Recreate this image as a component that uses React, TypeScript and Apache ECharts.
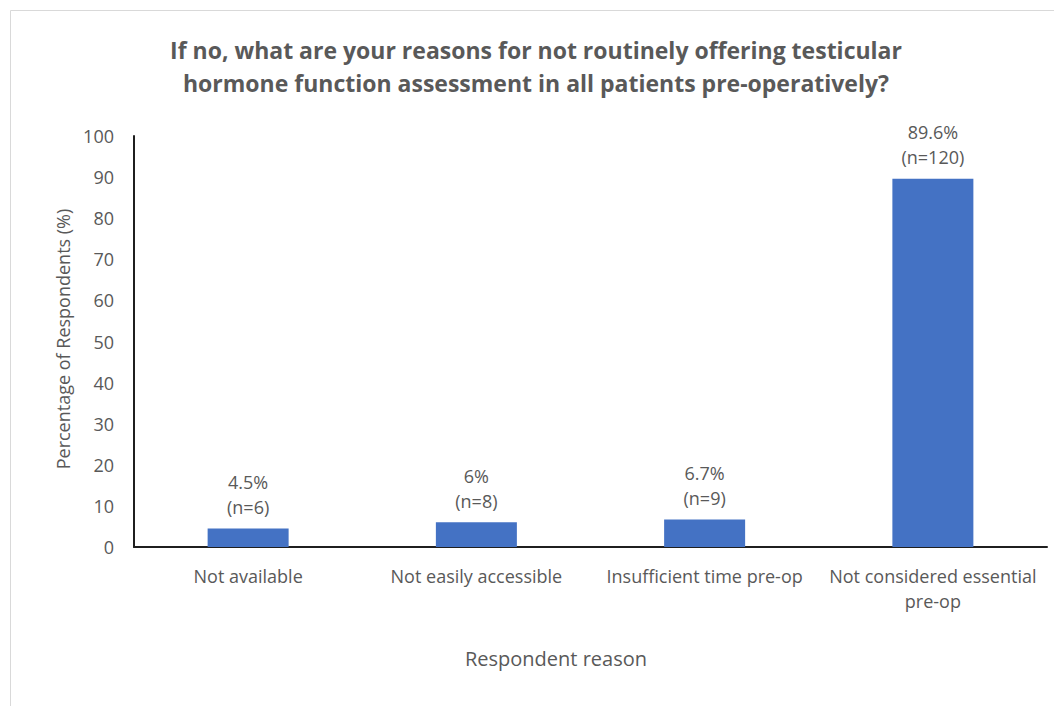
import React, { useEffect, useRef } from "react";
import * as echarts from "echarts";

const categories = [
  "Not available",
  "Not easily accessible",
  "Insufficient time pre-op",
  "Not considered essential\npre-op",
];
const percentages = [4.5, 6, 6.7, 89.6];
const counts = [6, 8, 9, 120];
const yTicks = { min: 0, max: 100, interval: 10 };
const titleLines = [
  "If no, what are your reasons for not routinely offering testicular",
  "hormone function assessment in all patients pre-operatively?",
];
const yAxisTitle = "Percentage of Respondents (%)";
const xAxisTitle = "Respondent reason";

const FONT = "Open Sans";
const GRAY = "#595959";
const FS = 18;

export default function App() {
  const ref = useRef<HTMLDivElement>(null);
  useEffect(() => {
    if (!ref.current) return;
    const chart = echarts.init(ref.current, undefined, { renderer: "svg" });
    const data = percentages.map((v, i) => ({
      value: v,
      label: { formatter: `${v}%\n(n=${counts[i]})` },
    }));
    chart.setOption({
      animation: false,
      backgroundColor: "#ffffff",
      textStyle: { fontFamily: FONT },
      grid: { left: 134, right: 7, top: 136, bottom: 159, containLabel: false },
      xAxis: {
        type: "category",
        data: categories,
        axisLine: { lineStyle: { color: "#1f1f1f", width: 2 } },
        axisTick: { show: false },
        axisLabel: {
          color: GRAY,
          fontSize: FS,
          fontFamily: FONT,
          margin: 16,
          lineHeight: 25,
          interval: 0,
        },
      },
      yAxis: {
        type: "value",
        min: yTicks.min,
        max: yTicks.max,
        interval: yTicks.interval,
        axisLine: { show: true, lineStyle: { color: "#1f1f1f", width: 2 } },
        axisTick: { show: false },
        splitLine: { show: false },
        axisLabel: { color: GRAY, fontSize: FS, fontFamily: FONT, margin: 20 },
      },
      series: [
        {
          type: "bar",
          data,
          barWidth: 81,
          itemStyle: { color: "#4472C4" },
          label: {
            show: true,
            position: "top",
            distance: 9,
            color: GRAY,
            fontSize: FS,
            fontFamily: FONT,
            lineHeight: 25,
            align: "center",
          },
        },
      ],
      graphic: [
        {
          type: "rect",
          shape: { x: 10.5, y: 10.5, width: 1200, height: 900 },
          style: { fill: "none", stroke: "#d9d9d9", lineWidth: 1 },
          silent: true,
        },
        {
          type: "text",
          x: 536,
          y: 66,
          style: {
            text: titleLines.join("\n"),
            fill: GRAY,
            font: `bold 23px "${FONT}"`,
            lineHeight: 33,
            align: "center",
            verticalAlign: "middle",
          },
        },
        {
          type: "text",
          x: 63,
          y: 339,
          rotation: Math.PI / 2,
          style: {
            text: yAxisTitle,
            fill: GRAY,
            font: `${FS}px "${FONT}"`,
            align: "center",
            verticalAlign: "middle",
          },
        },
        {
          type: "text",
          x: 556,
          y: 658,
          style: {
            text: xAxisTitle,
            fill: GRAY,
            font: `20px "${FONT}"`,
            align: "center",
            verticalAlign: "middle",
          },
        },
      ],
    });
    return () => chart.dispose();
  }, []);
  return (
    <div
      ref={ref}
      style={{ position: "fixed", left: 0, top: 0, width: 1054, height: 706 }}
    />
  );
}
